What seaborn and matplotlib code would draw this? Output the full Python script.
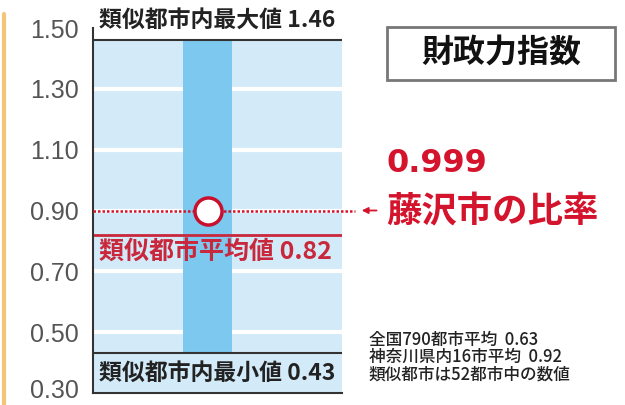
import numpy as np
import pandas as pd
import seaborn as sns
import matplotlib.pyplot as plt
from matplotlib.transforms import ScaledTranslation

# values
y_ticks = [0.30, 0.50, 0.70, 0.90, 1.10, 1.30, 1.50]
tick_labels = ['0.30', '0.50', '0.70', '0.90', '1.10', '1.30', '1.50']
similar_max = 1.46
similar_avg = 0.82
similar_min = 0.43
fujisawa_pos = 0.90      # where the circle sits in the picture
fujisawa_label = '0.999'
max_label = '類似都市内最大値 1.46'
avg_label = '類似都市平均値 0.82'
min_label = '類似都市内最小値 0.43'
title = '財政力指数'
city_label = '藤沢市の比率'
notes = ['全国790都市平均  0.63', '神奈川県内16市平均  0.92', '類似都市は52都市中の数値']

sns.set_theme(style='white')
plt.rcParams['font.family'] = ['Noto Sans CJK JP', 'DejaVu Sans']

red = '#d4142c'
dark = '#333333'
light_blue = '#d3ebf9'
bar_blue = '#7cc8ef'

W, H = 625, 405
fig = plt.figure(figsize=(W / 100, H / 100), dpi=100)
fig.patch.set_facecolor('white')

def fx(px):
    return px / W

def fy(py):
    return 1 - py / H

ax = fig.add_axes([fx(93), fy(393), 249 / W, 365 / H])
ax.set_xlim(0, 1)
ax.set_ylim(0.30, 1.50)
ax.set_facecolor('white')

# light blue panel + white grid
ax.axhspan(0.30, similar_max, color=light_blue, zorder=0, lw=0)
for t in y_ticks[1:-1]:
    ax.axhline(t, color='white', lw=3, zorder=0.5)

# range bar of similar cities
ax.bar([0.46], [similar_max - similar_min], bottom=[similar_min], width=0.197,
       color=bar_blue, zorder=1, linewidth=0)

# reference lines
ax.axhline(similar_max, color=dark, lw=1.5, zorder=2)
ax.axhline(similar_min, color=dark, lw=1.5, zorder=2)
ax.axhline(similar_avg, color='#c9283c', lw=2, zorder=2)

# Fujisawa line and point
ax.plot([0, 1.052], [fujisawa_pos, fujisawa_pos], ls=(0, (1, 0.8)), color=red,
        lw=1.8, clip_on=False, zorder=3)
pt = pd.DataFrame({'x': [0.46], 'y': [fujisawa_pos]})
sns.scatterplot(data=pt, x='x', y='y', s=380, color='white', edgecolor='#c8102e',
                linewidth=2.5, zorder=4, ax=ax, legend=False)
ax.annotate('', xy=(1.068, fujisawa_pos), xytext=(1.15, fujisawa_pos),
            arrowprops=dict(arrowstyle='-|>', color=red, lw=1.3, mutation_scale=9),
            annotation_clip=False)

ax.set_xlabel('')
ax.set_ylabel('')
ax.set_xticks([])
ax.set_yticks(y_ticks)
ax.set_yticklabels(tick_labels, family=['Liberation Sans'], fontsize=18, color='#555555')
ax.tick_params(axis='y', length=0, pad=10)
# nudge the bottom label up a little so it stays inside the figure
lbl = ax.get_yticklabels()[0]
lbl.set_transform(lbl.get_transform() + ScaledTranslation(0, 4 / 100, fig.dpi_scale_trans))
for s in ['top', 'right']:
    ax.spines[s].set_visible(False)
ax.spines['left'].set_color(dark)
ax.spines['left'].set_linewidth(1.5)
ax.spines['bottom'].set_color(dark)
ax.spines['bottom'].set_linewidth(1.5)

# labels on the panel
fig.text(fx(99), fy(20), max_label, fontsize=16.5, fontweight='bold', color='#222222', va='center')
fig.text(fx(99), fy(252), avg_label, fontsize=18, fontweight='bold', color='#c9283c', va='center')
fig.text(fx(99), fy(373), min_label, fontsize=16.5, fontweight='bold', color='#222222', va='center')

# Fujisawa value
fig.text(fx(387), fy(163), fujisawa_label, fontsize=23, fontweight='bold', color=red,
         va='center', family=['DejaVu Sans'])
fig.text(fx(386), fy(212), city_label, fontsize=25.5, fontweight='bold', color=red, va='center')

# title box
fig.text(fx(501), fy(53), title, fontsize=23, fontweight='bold', color='#111111',
         ha='center', va='center')
fig.patches.append(plt.Rectangle((fx(387), fy(80)), (615 - 387) / W, 53 / H,
                                 transform=fig.transFigure, fill=False,
                                 edgecolor='#777777', lw=2))

# notes (one block so lines stay tight)
fig.text(fx(369), fy(357), '\n'.join(notes), fontsize=12, fontweight='medium',
         color='#222222', va='center', ha='left', linespacing=0.95)

# orange border at left
fig.add_artist(plt.Line2D([fx(4), fx(4)], [fy(14), 0], transform=fig.transFigure,
                          color='#f3c47a', lw=3))

plt.savefig('out.png', dpi=100)
